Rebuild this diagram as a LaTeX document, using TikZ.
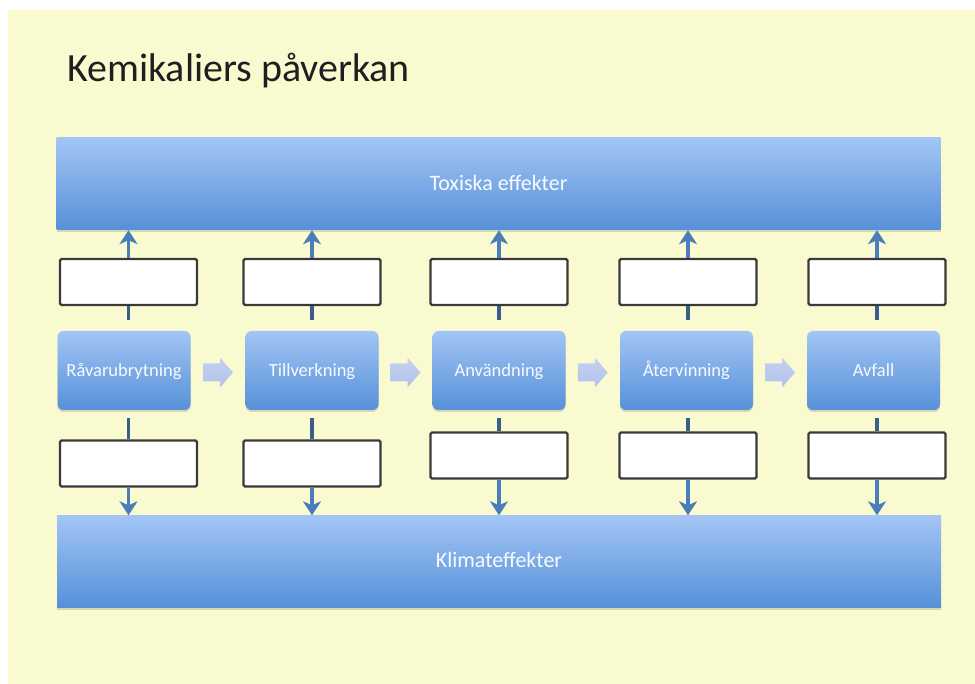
\documentclass[tikz,border=0pt]{standalone}
\usepackage{fontspec}
\setmainfont{Carlito}
\usetikzlibrary{arrows.meta,shadows,calc}

\definecolor{paper}{HTML}{FAFAD0}
\definecolor{boxtop}{HTML}{A2C5F5}
\definecolor{boxbot}{HTML}{5690D8}
\definecolor{linkblue}{HTML}{4A7EBB}
\definecolor{flowblue}{HTML}{B2C2EC}
\definecolor{rimgray}{HTML}{3A3A3A}

\tikzset{
  bar/.style={top color=boxtop,bottom color=boxbot,minimum width=884pt,minimum height=92pt,inner sep=0pt,
    text=white!92!boxtop,font=\fontsize{22}{26}\selectfont,text height=1.25em,text depth=0pt,
    drop shadow={opacity=.3,shadow xshift=0pt,shadow yshift=-2pt}},
  stage/.style={rounded corners=6pt,top color=boxtop,bottom color=boxbot,minimum width=133pt,minimum height=79pt,inner sep=0pt,
    text=white!92!boxtop,font=\fontsize{18.5}{22}\selectfont,text height=1.25em,text depth=0pt,
    drop shadow={opacity=.3,shadow xshift=0pt,shadow yshift=-2pt}},
  blank/.style={draw=rimgray,line width=2.2pt,fill=white,rounded corners=1.5pt,minimum width=137pt,minimum height=46pt},
  link/.style={draw=linkblue,line width=3.4pt,-{Stealth[length=14pt,width=18pt,inset=4pt]}},
  stub/.style={draw=linkblue!75!black,line width=3.4pt},
  flow/.style={top color=flowblue!75!white,bottom color=flowblue}
}

\begin{document}
\begin{tikzpicture}[x=1pt,y=-1pt]
\path[use as bounding box] (0,0) rectangle (975,684);
\fill[paper] (8,10) rectangle (975,684);
\node[anchor=base west,inner sep=0pt,text=black!88,font=\fontsize{40}{48}\selectfont] (title) at (67,82) {Kemikaliers påverkan};
% effect bars
\node[bar] (toxic) at (498.5,184) {Toxiska effekter};
\node[bar] (klimat) at (499,561.5) {Klimateffekter};
% life cycle stages
\node[stage] (s1) at (124,370.5) {Råvarubrytning};
\node[stage] (s2) at (312,370.5) {Tillverkning};
\node[stage] (s3) at (499,370.5) {Användning};
\node[stage] (s4) at (686.5,370.5) {Återvinning};
\node[stage] (s5) at (873.5,370.5) {Avfall};
% block arrows between stages
\coordinate (f1) at ($(s1.east)!.5!(s2.west)+(0,2)$);
\coordinate (f2) at ($(s2.east)!.5!(s3.west)+(0,2)$);
\coordinate (f3) at ($(s3.east)!.5!(s4.west)+(0,2)$);
\coordinate (f4) at ($(s4.east)!.5!(s5.west)+(0,2)$);
\path[flow] ($(f1)+(-15,-9)$) -- ++(17,0) -- ++(0,-6) -- ++(13,15) -- ++(-13,15) -- ++(0,-6) -- ++(-17,0) -- cycle;
\path[flow] ($(f2)+(-15,-9)$) -- ++(17,0) -- ++(0,-6) -- ++(13,15) -- ++(-13,15) -- ++(0,-6) -- ++(-17,0) -- cycle;
\path[flow] ($(f3)+(-15,-9)$) -- ++(17,0) -- ++(0,-6) -- ++(13,15) -- ++(-13,15) -- ++(0,-6) -- ++(-17,0) -- cycle;
\path[flow] ($(f4)+(-15,-9)$) -- ++(17,0) -- ++(0,-6) -- ++(13,15) -- ++(-13,15) -- ++(0,-6) -- ++(-17,0) -- cycle;
% empty boxes above and below
\node[blank] (u1) at (128.5,282) {};
\node[blank] (u2) at (312,282) {};
\node[blank] (u3) at (499,282) {};
\node[blank] (u4) at (688,282) {};
\node[blank] (u5) at (877,282) {};
\node[blank] (l1) at (128.5,463.5) {};
\node[blank] (l2) at (312,463.5) {};
\node[blank] (l3) at (499,455.5) {};
\node[blank] (l4) at (688,455.5) {};
\node[blank] (l5) at (877,455.5) {};
% connectors
\draw[stub,shorten >=11pt] (u1.south) -- (u1 |- s1.north);
\draw[stub,shorten >=11pt] (u2.south) -- (u2 |- s2.north);
\draw[stub,shorten >=11pt] (u3.south) -- (u3 |- s3.north);
\draw[stub,shorten >=11pt] (u4.south) -- (u4 |- s4.north);
\draw[stub,shorten >=11pt] (u5.south) -- (u5 |- s5.north);
\draw[stub,shorten <=8pt] (l1 |- s1.south) -- (l1.north);
\draw[stub,shorten <=8pt] (l2 |- s2.south) -- (l2.north);
\draw[stub,shorten <=8pt] (l3 |- s3.south) -- (l3.north);
\draw[stub,shorten <=8pt] (l4 |- s4.south) -- (l4.north);
\draw[stub,shorten <=8pt] (l5 |- s5.south) -- (l5.north);
\draw[link] (u1.north) -- (u1 |- toxic.south);
\draw[link] (u2.north) -- (u2 |- toxic.south);
\draw[link] (u3.north) -- (u3 |- toxic.south);
\draw[link] (u4.north) -- (u4 |- toxic.south);
\draw[link] (u5.north) -- (u5 |- toxic.south);
\draw[link] (l1.south) -- (l1 |- klimat.north);
\draw[link] (l2.south) -- (l2 |- klimat.north);
\draw[link] (l3.south) -- (l3 |- klimat.north);
\draw[link] (l4.south) -- (l4 |- klimat.north);
\draw[link] (l5.south) -- (l5 |- klimat.north);
\end{tikzpicture}
\end{document}
